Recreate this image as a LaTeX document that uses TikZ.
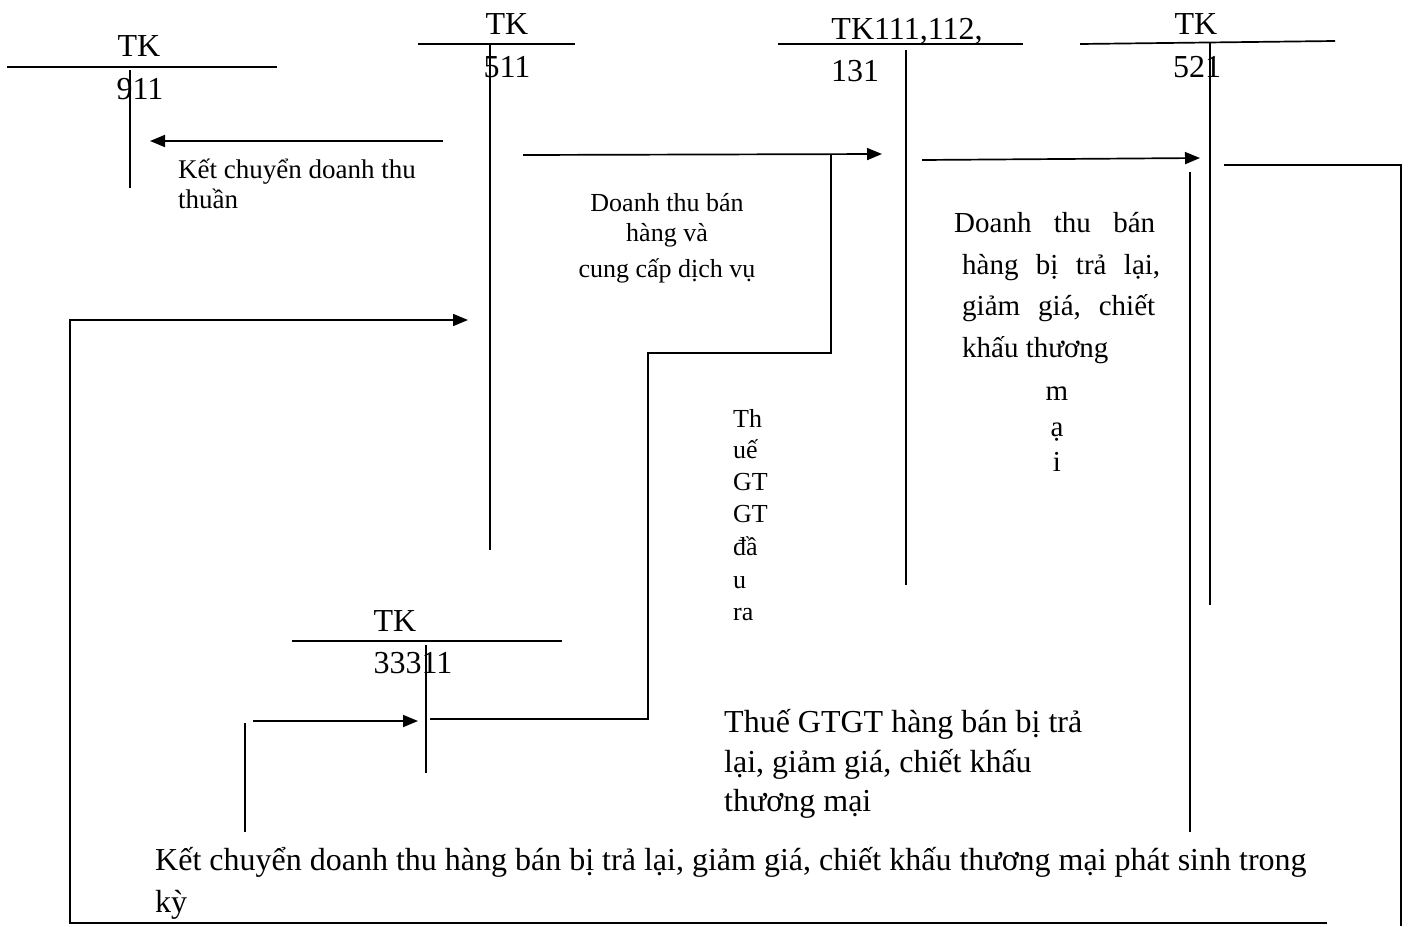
\documentclass[tikz,border=0pt]{standalone}
\usepackage{fontspec}
\setmainfont{Liberation Serif}
\usetikzlibrary{arrows.meta}
\tikzset{
  ln/.style={line width=1.7pt},
  arr/.style={ln,-{Triangle[length=15pt,width=12pt]}},
  hdr/.style={font=\fontsize{32}{38}\selectfont,inner sep=0pt,anchor=base},
  sm/.style={font=\fontsize{26}{31}\selectfont,inner sep=0pt,anchor=base west},
  smc/.style={font=\fontsize{26}{31}\selectfont,inner sep=0pt,anchor=base},
  ks/.style={font=\fontsize{27}{32}\selectfont,inner sep=0pt,anchor=base west},
  md/.style={font=\fontsize{29}{34}\selectfont,inner sep=0pt,anchor=base west},
  mdc/.style={font=\fontsize{29}{34}\selectfont,inner sep=0pt,anchor=base},
  lg/.style={font=\fontsize{32}{38}\selectfont,inner sep=0pt,anchor=base west},
}
\begin{document}
\begin{tikzpicture}[x=1pt,y=-1pt]
\useasboundingbox (0,0) rectangle (1415,926);

% ---------- TK 911 ----------
\coordinate (h911a) at (7,67);   \coordinate (h911b) at (277,67);
\coordinate (v911a) at (130,70); \coordinate (v911b) at (130,188);
\draw[ln] (h911a) -- (h911b);
\draw[ln] (v911a) -- (v911b);
\node[hdr] (t911) at (139,56) {TK};
\node[hdr] (n911) at (140,99) {911};

% ---------- TK 511 ----------
\coordinate (h511a) at (418,44); \coordinate (h511b) at (575,44);
\coordinate (v511a) at (490,44); \coordinate (v511b) at (490,550);
\draw[ln] (h511a) -- (h511b);
\draw[ln] (v511a) -- (v511b);
\node[hdr] (t511) at (507,34) {TK};
\node[hdr] (n511) at (507,77) {511};

% ---------- TK 111,112,131 ----------
\coordinate (h111a) at (778,44); \coordinate (h111b) at (1023,44);
\coordinate (v111a) at (906,50); \coordinate (v111b) at (906,585);
\draw[ln] (h111a) -- (h111b);
\draw[ln] (v111a) -- (v111b);
\node[hdr] (t111) at (907,39) {TK111,112,};
\node[hdr] (n111) at (855,81) {131};

% ---------- TK 521 ----------
\coordinate (h521a) at (1080,44); \coordinate (h521b) at (1335,41);
\coordinate (v521a) at (1210,43); \coordinate (v521b) at (1210,605);
\draw[ln] (h521a) -- (h521b);
\draw[ln] (v521a) -- (v521b);
\node[hdr] (t521) at (1196,34) {TK};
\node[hdr] (n521) at (1197,77) {521};

% ---------- TK 33311 ----------
\coordinate (h333a) at (292,641); \coordinate (h333b) at (562,641);
\coordinate (v333a) at (426,645); \coordinate (v333b) at (426,773);
\draw[ln] (h333a) -- (h333b);
\draw[ln] (v333a) -- (v333b);
\node[hdr] (t333) at (395,631) {TK};
\node[hdr] (n333) at (413,673) {33311};

% ---------- 511 -> 911 ----------
\coordinate (a1s) at (443,141); \coordinate (a1e) at (150,141);
\draw[arr] (a1s) -- (a1e);
\node[ks] (k1) at (178,178) {Kết chuyển doanh thu};
\node[ks] (k2) at (178,208) {thuần};

% ---------- 111 -> 511 (sales) ----------
\coordinate (a2s) at (523,155); \coordinate (a2e) at (882,154);
\draw[arr] (a2s) -- (a2e);
\node[smc] (d1) at (667,211) {Doanh thu bán};
\node[smc] (d2) at (667,241) {hàng và};
\node[smc] (d3) at (667,277) {cung cấp dịch vụ};

% ---------- VAT output 33311 ----------
\coordinate (vs) at (430,719); \coordinate (vm) at (648,353); \coordinate (ve) at (831,155);
\draw[ln] (vs) -| (vm) -| (ve);
\node[sm] (g1) at (733,427) {Th};
\node[sm] (g2) at (733,458) {uế};
\node[sm] (g3) at (733,490) {GT};
\node[sm] (g4) at (733,522) {GT};
\node[sm] (g5) at (733,555) {đầ};
\node[sm] (g6) at (733,588) {u};
\node[sm] (g7) at (733,620) {ra};

% ---------- 521 <- 111 (returns) ----------
\coordinate (a3s) at (922,160); \coordinate (a3e) at (1200,158);
\draw[arr] (a3s) -- (a3e);
\node[md] (r1) at (954,232) {\hbox to 201pt{Doanh\hfill thu\hfill bán}};
\node[md] (r2) at (962,274) {\hbox to 198pt{hàng\hfill bị\hfill trả\hfill lại,}};
\node[md] (r3) at (962,315) {\hbox to 193pt{giảm\hfill giá,\hfill chiết}};
\node[md] (r4) at (962,357) {khấu thương};
\node[mdc] (r5) at (1057,400) {m};
\node[mdc] (r6) at (1057,436) {ạ};
\node[mdc] (r7) at (1057,471) {i};

% ---------- VAT on returns ----------
\coordinate (b1a) at (1190,172); \coordinate (b1b) at (1190,832);
\draw[ln] (b1a) -- (b1b);
\coordinate (b2a) at (245,832); \coordinate (b2b) at (245,723);
\draw[ln] (b2a) -- (b2b);
\coordinate (a5s) at (253,721); \coordinate (a5e) at (418,721);
\draw[arr] (a5s) -- (a5e);
\node[lg] (q1) at (724,732) {Thuế GTGT hàng bán bị trả};
\node[lg] (q2) at (724,772) {lại, giảm giá, chiết khấu};
\node[lg] (q3) at (724,811) {thương mại};

% ---------- 521 -> 511 closing ----------
\coordinate (c0) at (1224,165); \coordinate (c4) at (1401,926);
\draw[ln] (c0) -| (c4);
\coordinate (c1) at (1327,923); \coordinate (c2) at (70,320); \coordinate (c3) at (468,320);
\draw[arr] (c1) -| (c2) -- (c3);
\node[lg] (e1) at (155,870) {Kết chuyển doanh thu hàng bán bị trả lại, giảm giá, chiết khấu thương mại phát sinh trong};
\node[lg] (e2) at (155,912) {kỳ};
\end{tikzpicture}
\end{document}
